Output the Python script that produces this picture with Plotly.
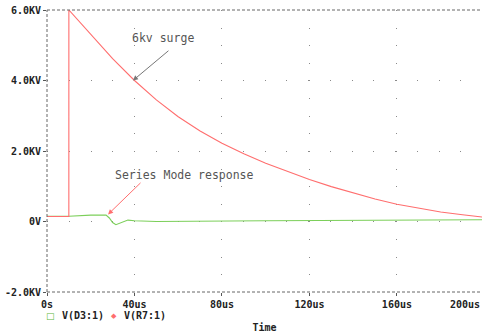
import plotly.graph_objects as go

# ---- data ----
t_red = [0, 9.99, 10, 20, 30, 40, 50, 60, 70, 80, 90, 100, 110, 120, 130, 140, 150, 160, 170, 180, 190, 200]
v_red = [0.14, 0.14, 6.0, 5.3, 4.62, 4.0, 3.45, 2.97, 2.57, 2.22, 1.92, 1.65, 1.41, 1.19, 0.99, 0.81, 0.64, 0.49, 0.37, 0.27, 0.19, 0.12]

t_green = [0, 10, 20, 27, 28.5, 30, 31.5, 33, 35, 37, 40, 50, 100, 150, 200]
v_green = [0.15, 0.15, 0.18, 0.18, 0.1, -0.03, -0.09, -0.06, 0.0, 0.04, 0.02, 0.0, 0.02, 0.03, 0.05]

x_tickvals = [0, 40, 80, 120, 160]
x_ticktext = ["0s", "40us", "80us", "120us", "160us"]
x_last_label = "200us"
y_tickvals = [-2, 0, 2, 4, 6]
y_ticktext = ["-2.0KV", "0V", "2.0KV", "4.0KV", "6.0KV"]

name_green = "V(D3:1)"
name_red = "V(R7:1)"

RED = "#ff6e6e"
GREEN = "#7ccf5a"
MONO = "DejaVu Sans Mono"

fig = go.Figure()
fig.add_trace(go.Scatter(x=t_green, y=v_green, mode="lines", name=name_green,
                         line=dict(color=GREEN, width=1.1), showlegend=False, hoverinfo="skip"))
fig.add_trace(go.Scatter(x=t_red, y=v_red, mode="lines", name=name_red,
                         line=dict(color=RED, width=1.1), showlegend=False, hoverinfo="skip"))

tickfont = dict(family=MONO, size=10, color="#222", weight="bold")

fig.update_xaxes(range=[0, 198.9], tickvals=x_tickvals, ticktext=x_ticktext, tickfont=tickfont,
                 showgrid=True, gridcolor="#8a8a8a", gridwidth=1, griddash="1px,16.625px",
                 zeroline=False, showline=False, ticks="outside", ticklen=3, tickcolor="#555",
                 ticklabeloverflow="allow",
                 title=dict(text="Time", font=dict(family=MONO, size=10, color="#222", weight="bold"), standoff=22),
                 automargin=False, fixedrange=True)
fig.update_yaxes(range=[-2, 6], tickvals=y_tickvals, ticktext=y_ticktext, tickfont=tickfont,
                 showgrid=True, gridcolor="#8a8a8a", gridwidth=1, griddash="1px,20.75px",
                 zeroline=False, showline=False, ticks="outside", ticklen=3, tickcolor="#555",
                 ticklabeloverflow="allow",
                 automargin=False, fixedrange=True)

# dashed frame lines (top, bottom, left)
dash_line = dict(color="#666", width=1, dash="3px,2px")
fig.add_shape(type="line", xref="paper", yref="paper", x0=0, x1=1, y0=1, y1=1, line=dash_line)
fig.add_shape(type="line", xref="paper", yref="paper", x0=0, x1=1, y0=0, y1=0, line=dash_line)
fig.add_shape(type="line", xref="paper", yref="paper", x0=0, x1=0, y0=0, y1=1, line=dash_line)

annfont = dict(family=MONO, size=11.5, color="#555")
fig.add_annotation(x=53, y=5.2, text="6kv surge", showarrow=False, font=annfont)
fig.add_annotation(x=39.3, y=4.0, text="", showarrow=True, ax=37, ay=-31,
                   arrowhead=2, arrowsize=1, arrowwidth=1, arrowcolor="#777")
fig.add_annotation(x=63, y=1.31, text="Series Mode response", showarrow=False, font=annfont)
fig.add_annotation(x=27.9, y=0.2, text="", showarrow=True, ax=34, ay=-33,
                   arrowhead=2, arrowsize=1, arrowwidth=1, arrowcolor=RED)
# last x tick label kept inside the window
fig.add_annotation(xref="x", yref="paper", x=198.9, y=0, xanchor="right", yanchor="top",
                   yshift=-5, text=x_last_label, showarrow=False, font=tickfont)

# legend line below the axis (symbol + name)
legfont = dict(family=MONO, size=10, color="#222", weight="bold")
leg_y = -0.085
fig.add_annotation(xref="x", yref="paper", x=1.4, y=leg_y, yanchor="middle", text="□", showarrow=False,
                   font=dict(family="DejaVu Sans", size=9, color="#5cb83a", weight="bold"))
fig.add_annotation(xref="x", yref="paper", x=5.9, y=leg_y, xanchor="left", yanchor="middle", text=name_green,
                   showarrow=False, font=legfont)
fig.add_annotation(xref="x", yref="paper", x=30.6, y=leg_y, yanchor="middle", text="◆", showarrow=False,
                   font=dict(family="DejaVu Sans", size=7, color=RED))
fig.add_annotation(xref="x", yref="paper", x=34.3, y=leg_y, xanchor="left", yanchor="middle", text=name_red,
                   showarrow=False, font=legfont)

fig.update_layout(
    width=482, height=333,
    margin=dict(l=47, r=0, t=10, b=41),
    paper_bgcolor="white", plot_bgcolor="white",
    showlegend=False,
)

fig.write_html("out.html", config={"displayModeBar": False, "staticPlot": True},
               post_script="document.body.style.margin='0';document.body.style.overflow='hidden';")
